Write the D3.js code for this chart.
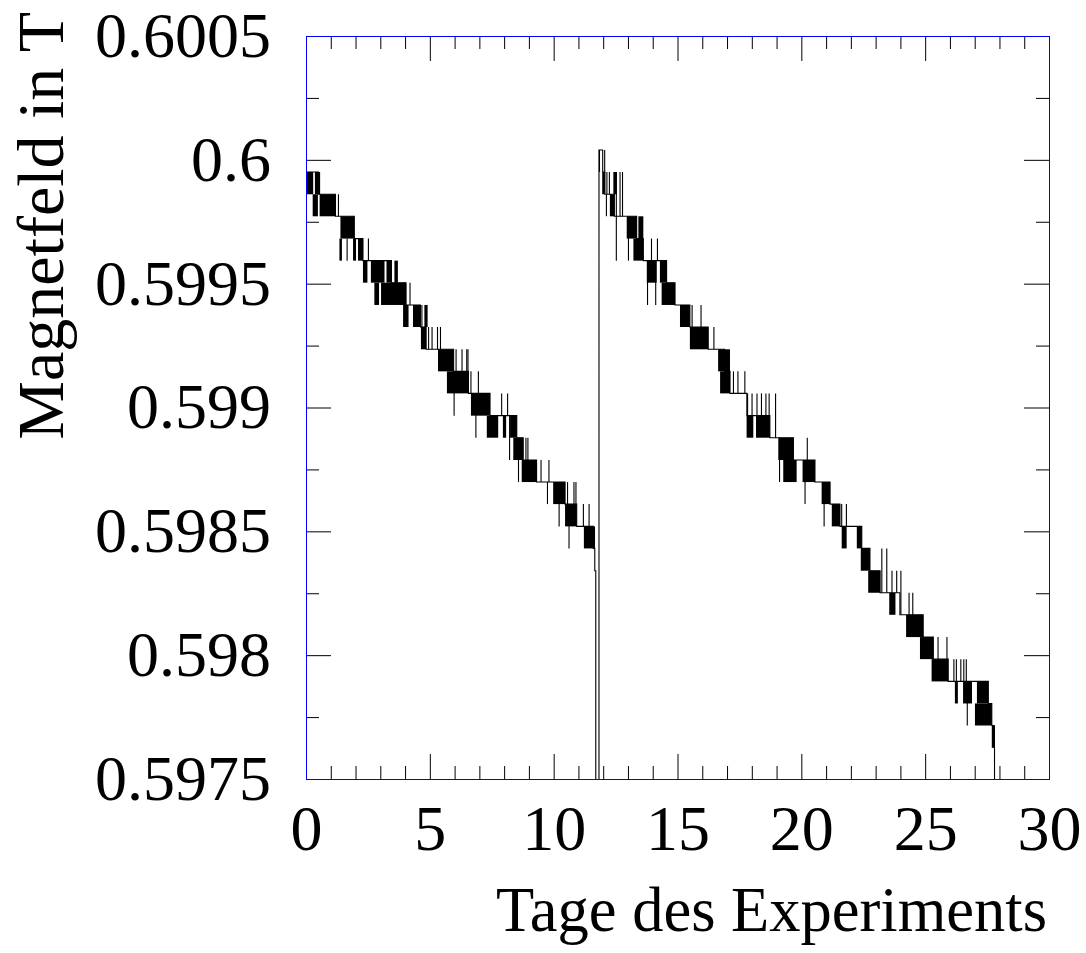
<!DOCTYPE html>
<html>
<head>
<meta charset="utf-8">
<script src="https://cdn.jsdelivr.net/npm/d3@7"></script>
<style>
  body { margin: 0; background: #fff; }
  svg { display: block; }
  text, .tick text { font-family: "Liberation Serif", "Times New Roman", serif; font-size: 64px; fill: #000; }
</style>
</head>
<body>
<svg id="chart" width="1086" height="953"></svg>
<script>
// quantised field levels of the probe (T)
const fieldLevels = [0.60004, 0.599951, 0.599861, 0.599772, 0.599682, 0.599593, 0.599504,
  0.599414, 0.599325, 0.599235, 0.599146, 0.599057, 0.598967, 0.598878, 0.598788,
  0.598699, 0.598610, 0.598520, 0.598431, 0.598341, 0.598252, 0.598163, 0.598073,
  0.597984, 0.597894, 0.597805, 0.597716, 0.597626];

// reading drops off the scale at these days (refill / end of run)
const dropoutDays = [11.70, 27.80];
const dropoutField = 0.5970;

// level changes of the main trace: [day, level index]
const baseLeft = [[0.00, 1], [0.50, 2], [1.19, 3], [1.95, 4], [2.30, 5], [3.45, 6], [4.04, 7],
  [4.62, 8], [4.85, 9], [5.96, 10], [6.56, 11], [7.43, 12], [8.51, 13], [8.77, 14],
  [9.31, 15], [10.46, 16], [10.93, 17], [11.60, 18], [11.66, 19]];
const baseRight = [[11.83, 0], [11.98, 1], [12.07, 2], [12.45, 3], [13.35, 4], [13.62, 5],
  [14.56, 6], [14.90, 7], [15.50, 8], [16.24, 9], [16.90, 10], [17.12, 11], [17.80, 12],
  [18.73, 13], [19.68, 14], [20.55, 15], [21.16, 16], [21.56, 17], [22.44, 18], [22.77, 19],
  [23.18, 20], [23.98, 21], [24.92, 22], [25.33, 23], [25.93, 24], [27.55, 25], [27.69, 26],
  [27.78, 27]];

// stretches where the reading flickers between two neighbouring levels: [from day, to day, upper level]
const bursts = [
  [0.03, 0.29, 1], [0.36, 0.57, 1], [0.27, 0.48, 2], [0.55, 1.19, 2], [1.39, 1.95, 3],
  [1.35, 1.45, 4], [1.90, 2.02, 4], [2.10, 2.30, 4], [2.30, 2.48, 5], [2.62, 3.17, 5],
  [3.25, 3.45, 5], [3.57, 3.71, 5], [2.76, 2.95, 6], [3.03, 4.04, 6], [3.92, 4.14, 7],
  [4.32, 4.62, 7], [4.78, 4.91, 7], [4.64, 4.85, 8], [5.33, 5.96, 9], [5.69, 6.56, 10],
  [6.66, 7.43, 11], [7.30, 7.76, 12], [7.95, 8.08, 12], [8.24, 8.51, 12], [8.37, 8.77, 13],
  [8.71, 9.31, 14], [9.98, 10.46, 15], [10.46, 10.93, 16], [11.22, 11.67, 17],
  [11.96, 12.07, 1], [12.41, 12.55, 1], [12.27, 12.45, 2], [12.95, 13.35, 3], [13.42, 13.62, 3],
  [13.22, 13.62, 4], [13.76, 14.16, 5], [14.29, 14.56, 5], [14.36, 14.90, 6], [15.10, 15.50, 7],
  [15.50, 16.24, 8], [16.64, 17.12, 9], [16.72, 17.12, 10], [17.79, 18.06, 12], [18.17, 18.73, 12],
  [19.07, 19.68, 13], [19.27, 19.81, 14], [20.05, 20.55, 14], [20.82, 21.16, 15], [21.23, 21.56, 16],
  [21.63, 21.83, 17], [22.24, 22.44, 17], [22.40, 22.77, 18], [22.70, 23.18, 19], [23.55, 23.80, 20],
  [24.23, 24.92, 21], [24.79, 25.33, 22], [25.26, 25.93, 23], [26.20, 26.32, 24], [26.53, 26.89, 24],
  [27.09, 27.55, 24], [27.01, 27.69, 25], [27.69, 27.82, 26]];

// single-sample excursions: [day, level a, level b]
const spikes = [
  [1.31, 2, 3], [1.66, 4, 5], [2.52, 4, 5], [4.20, 6, 7], [4.68, 7, 8], [4.95, 8, 9], [5.09, 8, 9],
  [5.31, 8, 9], [5.43, 8, 9], [5.98, 10, 12], [6.06, 9, 10], [6.30, 9, 10], [6.49, 9, 10],
  [6.54, 9, 10], [6.66, 10, 11], [6.96, 10, 11], [6.86, 11, 13], [7.90, 11, 12], [8.14, 11, 12],
  [8.22, 12, 14], [8.88, 13, 14], [8.96, 13, 14], [8.58, 14, 15], [9.49, 14, 15], [9.81, 14, 15],
  [9.75, 15, 16], [10.56, 15, 16], [10.82, 15, 16], [10.90, 15, 16], [10.22, 15, 17],
  [11.20, 16, 17], [11.43, 16, 17], [10.62, 16, 18],
  [11.85, 0, 1], [12.06, 0, 1], [12.15, 1, 2], [12.25, 1, 2], [12.68, 1, 3], [12.78, 1, 3],
  [12.13, 2, 3], [12.53, 1, 5], [13.02, 3, 5], [13.95, 4, 5], [14.19, 4, 5], [13.79, 5, 7],
  [14.12, 5, 7], [15.59, 7, 8], [15.95, 7, 8], [16.47, 8, 9], [17.26, 10, 11], [17.44, 10, 11],
  [17.72, 10, 11], [17.83, 11, 12], [18.01, 11, 12], [18.21, 11, 12], [18.39, 11, 12],
  [18.57, 11, 12], [18.70, 11, 12], [18.96, 11, 13], [19.12, 13, 15], [20.24, 13, 14],
  [20.15, 14, 16], [20.92, 15, 17], [21.63, 16, 17], [21.82, 16, 17], [23.25, 18, 20],
  [23.45, 18, 20], [23.66, 19, 20], [23.85, 19, 20], [24.02, 19, 21], [24.35, 20, 21],
  [24.50, 20, 21], [25.52, 22, 23], [25.88, 22, 23], [26.16, 23, 24], [26.26, 23, 24],
  [26.44, 23, 24], [26.56, 23, 24], [26.66, 23, 24], [26.70, 24, 26]];

const xMajor = [0, 5, 10, 15, 20, 25, 30];
const xMinor = [1, 2, 3, 4, 6, 7, 8, 9, 11, 12, 13, 14, 16, 17, 18, 19, 21, 22, 23, 24, 26, 27, 28, 29];
const yMajor = [0.5975, 0.598, 0.5985, 0.599, 0.5995, 0.6, 0.6005];
const yTickLabels = ["0.5975", "0.598", "0.5985", "0.599", "0.5995", "0.6", "0.6005"];
const yMinor = [0.59775, 0.59825, 0.59875, 0.59925, 0.59975, 0.60025];

function drawChart() {
  const plotLeft = 306, plotRight = 1049, plotTop = 36, plotBottom = 779;
  const svg = d3.select("#chart");

  const x = d3.scaleLinear().domain([0, 30]).range([plotLeft, plotRight]);
  const y = d3.scaleLinear().domain([0.5975, 0.6005]).range([plotBottom, plotTop]);

  svg.append("clipPath").attr("id", "plot")
    .append("rect").attr("x", plotLeft).attr("y", plotTop)
    .attr("width", plotRight - plotLeft).attr("height", plotBottom - plotTop);

  const data = svg.append("g").attr("clip-path", "url(#plot)");

  // flicker stretches
  data.selectAll(".burst")
    .data(bursts)
    .enter()
    .append("rect")
    .attr("class", "burst")
    .attr("x", d => x(d[0]))
    .attr("width", d => x(d[1]) - x(d[0]))
    .attr("y", d => y(fieldLevels[d[2]]))
    .attr("height", d => y(fieldLevels[d[2] + 1]) - y(fieldLevels[d[2]]))
    .attr("fill", "#000");

  // spikes
  data.selectAll(".spike")
    .data(spikes)
    .enter()
    .append("line")
    .attr("class", "spike")
    .attr("x1", d => x(d[0]))
    .attr("x2", d => x(d[0]))
    .attr("y1", d => y(fieldLevels[d[1]]))
    .attr("y2", d => y(fieldLevels[d[2]]))
    .attr("stroke", "#000")
    .attr("stroke-width", 1.1);

  // main trace as a step line
  const trace = [
    ...baseLeft.map(([d, k]) => [d, fieldLevels[k]]),
    [dropoutDays[0], dropoutField],
    ...baseRight.map(([d, k]) => [d, fieldLevels[k]]),
    [dropoutDays[1], dropoutField]
  ];
  const line = d3.line().x(d => x(d[0])).y(d => y(d[1])).curve(d3.curveStepAfter);
  data.append("path")
    .attr("d", line(trace))
    .attr("fill", "none")
    .attr("stroke", "#000")
    .attr("stroke-width", 1.1);

  // axes, ticks pointing inwards on all four sides
  const noDomain = g => g.select(".domain").remove();

  svg.append("g").attr("transform", `translate(${plotLeft},0)`)
    .call(d3.axisLeft(y).tickValues(yMajor).tickSize(-25).tickPadding(35).tickFormat((d, i) => yTickLabels[i]))
    .call(noDomain);
  svg.append("g").attr("transform", `translate(${plotLeft},0)`)
    .call(d3.axisLeft(y).tickValues(yMinor).tickSize(-13).tickFormat(""))
    .call(noDomain);
  svg.append("g").attr("transform", `translate(${plotRight},0)`)
    .call(d3.axisRight(y).tickValues(yMajor).tickSize(-25).tickFormat(""))
    .call(noDomain);
  svg.append("g").attr("transform", `translate(${plotRight},0)`)
    .call(d3.axisRight(y).tickValues(yMinor).tickSize(-13).tickFormat(""))
    .call(noDomain);

  svg.append("g").attr("transform", `translate(0,${plotBottom})`)
    .call(d3.axisBottom(x).tickValues(xMajor).tickSize(-25).tickPadding(26).tickFormat(d3.format("d")))
    .call(noDomain);
  svg.append("g").attr("transform", `translate(0,${plotBottom})`)
    .call(d3.axisBottom(x).tickValues(xMinor).tickSize(-13).tickFormat(""))
    .call(noDomain);
  svg.append("g").attr("transform", `translate(0,${plotTop})`)
    .call(d3.axisTop(x).tickValues(xMajor).tickSize(-25).tickFormat(""))
    .call(noDomain);
  svg.append("g").attr("transform", `translate(0,${plotTop})`)
    .call(d3.axisTop(x).tickValues(xMinor).tickSize(-13).tickFormat(""))
    .call(noDomain);

  // blue frame
  svg.append("rect")
    .attr("x", plotLeft + 0.5).attr("y", plotTop + 0.5)
    .attr("width", plotRight - plotLeft).attr("height", plotBottom - plotTop)
    .attr("fill", "none")
    .attr("stroke", "#0000ff")
    .attr("stroke-width", 1);

  // axis titles
  svg.append("text")
    .attr("transform", "translate(63,12) rotate(-90)")
    .attr("text-anchor", "end")
    .style("font-size", "66px")
    .text("Magnetfeld in T");
  svg.append("text")
    .attr("x", 1047).attr("y", 931)
    .attr("text-anchor", "end")
    .style("font-size", "62.5px")
    .text("Tage des Experiments");
}

drawChart();
</script>
</body>
</html>
